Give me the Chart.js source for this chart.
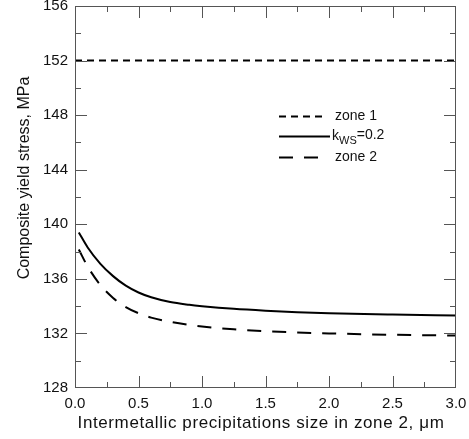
<!DOCTYPE html>
<html>
<head>
<meta charset="utf-8">
<script src="https://cdn.jsdelivr.net/npm/chart.js@4.4.0/dist/chart.umd.min.js"></script>
<style>
  html, body { margin: 0; padding: 0; background: #fff; }
</style>
</head>
<body>
<canvas id="myChart" width="469" height="439"></canvas>
<script>
// values
const sizeUm = [0.03, 0.1, 0.2, 0.3, 0.4, 0.5, 0.6, 0.75, 0.9, 1.0, 1.25, 1.5, 1.75, 2.0, 2.5, 3.0];
const kws02 = [139.4, 138.3, 137.1, 136.2, 135.5, 135.0, 134.65, 134.3, 134.1, 134.0, 133.8, 133.66, 133.55, 133.47, 133.38, 133.32];
const zone2 = [138.15, 136.9, 135.55, 134.6, 133.93, 133.48, 133.16, 132.85, 132.62, 132.5, 132.3, 132.16, 132.07, 132.0, 131.9, 131.84];
const zone1X = [0, 3];
const zone1 = [152, 152];

const seriesNames = ['zone 1', 'k_WS=0.2', 'zone 2'];
const xTickValues = [0, 0.5, 1.0, 1.5, 2.0, 2.5, 3.0];
const xMinorValues = [0.25, 0.75, 1.25, 1.75, 2.25, 2.75];
const yTickValues = [128, 132, 136, 140, 144, 148, 152, 156];
const yMinorValues = [130, 134, 138, 142, 146, 150, 154];
const xTitle = 'Intermetallic precipitations size in zone 2, \u03bcm';
const yTitle = 'Composite yield stress, MPa';

const FONT = '"Liberation Sans", Arial, sans-serif';
const toPoints = (xs, ys) => xs.map((x, i) => ({ x: x, y: ys[i] }));

// frame, inward ticks, axis titles and the legend
const decorations = {
    id: 'decorations',
    afterDatasetsDraw(chart) {
        const ctx = chart.ctx;
        const a = chart.chartArea;
        const x = chart.scales.x;
        const y = chart.scales.y;
        ctx.save();
        ctx.strokeStyle = '#555';
        ctx.lineWidth = 1;
        ctx.strokeRect(a.left + 0.5, a.top + 0.5, a.right - a.left - 1, a.bottom - a.top - 1);

        ctx.beginPath();
        const yTick = (v, len) => {
            const py = Math.round(y.getPixelForValue(v)) + 0.5;
            ctx.moveTo(a.left, py); ctx.lineTo(a.left + len, py);
            ctx.moveTo(a.right, py); ctx.lineTo(a.right - len, py);
        };
        const xTick = (v, len) => {
            const px = Math.round(x.getPixelForValue(v)) + 0.5;
            ctx.moveTo(px, a.bottom); ctx.lineTo(px, a.bottom - len);
            ctx.moveTo(px, a.top); ctx.lineTo(px, a.top + len);
        };
        yTickValues.slice(1, -1).forEach(v => yTick(v, 12));
        yMinorValues.forEach(v => yTick(v, 6));
        xTickValues.slice(1, -1).forEach(v => xTick(v, 12));
        xMinorValues.forEach(v => xTick(v, 6));
        ctx.stroke();

        // axis titles
        ctx.fillStyle = '#111';
        ctx.font = '17px ' + FONT;
        ctx.textAlign = 'center';
        ctx.textBaseline = 'alphabetic';
        ctx.letterSpacing = '0.6px';
        ctx.fillText(xTitle, 261, 428);
        ctx.letterSpacing = '0px';

        ctx.save();
        ctx.font = '16px ' + FONT;
        ctx.translate(28.5, 178);
        ctx.rotate(-Math.PI / 2);
        ctx.fillText(yTitle, 0, 0);
        ctx.restore();

        // legend
        const rows = [116, 136, 157];
        chart.data.datasets.forEach((ds, i) => {
            const ly = rows[i] + 0.5;
            ctx.save();
            ctx.strokeStyle = ds.borderColor;
            ctx.lineWidth = ds.borderWidth;
            ctx.setLineDash(ds.borderDash || []);
            ctx.beginPath();
            ctx.moveTo(279, ly);
            ctx.lineTo(i === 1 ? 330 : 326, ly);
            ctx.stroke();
            ctx.restore();

            ctx.textAlign = 'left';
            ctx.textBaseline = 'middle';
            ctx.font = '14px ' + FONT;
            const parts = ds.label.split('_');
            let tx = i === 1 ? 332 : 335;
            if (parts.length === 1) {
                ctx.fillText(ds.label, tx, ly);
            } else {
                const sub = parts[1].match(/^[A-Za-z]+/)[0];
                const rest = parts[1].slice(sub.length);
                ctx.fillText(parts[0], tx, ly);
                tx += ctx.measureText(parts[0]).width;
                ctx.font = '11px ' + FONT;
                ctx.fillText(sub, tx, ly + 4);
                tx += ctx.measureText(sub).width;
                ctx.font = '14px ' + FONT;
                ctx.fillText(rest, tx, ly - 1);
            }
        });
        ctx.restore();
    }
};

const canvasContext = document.getElementById('myChart').getContext('2d');

new Chart(canvasContext, {
    type: 'line',
    data: {
        datasets: [
            {
                label: seriesNames[0],
                data: toPoints(zone1X, zone1),
                borderColor: '#000',
                borderWidth: 2,
                borderDash: [7, 5],
                pointRadius: 0,
            },
            {
                label: seriesNames[1],
                data: toPoints(sizeUm, kws02),
                borderColor: '#000',
                borderWidth: 2,
                pointRadius: 0,
                cubicInterpolationMode: 'monotone',
            },
            {
                label: seriesNames[2],
                data: toPoints(sizeUm, zone2),
                borderColor: '#000',
                borderWidth: 2,
                borderDash: [14, 11],
                pointRadius: 0,
                cubicInterpolationMode: 'monotone',
            }
        ]
    },
    options: {
        responsive: false,
        animation: false,
        layout: {
            padding: { top: 6, right: 13, left: 0, bottom: 0 }
        },
        plugins: {
            legend: { display: false },
            tooltip: { enabled: false }
        },
        scales: {
            x: {
                type: 'linear',
                min: 0,
                max: 3,
                afterBuildTicks: (scale) => {
                    scale.ticks = xTickValues.map(v => ({ value: v }));
                },
                afterFit: (scale) => {
                    scale.height = 51;
                    scale.paddingLeft = 0;
                    scale.paddingRight = 0;
                },
                grid: { display: false, drawTicks: false },
                border: { display: false },
                ticks: {
                    padding: 7,
                    maxRotation: 0,
                    color: '#111',
                    font: { family: FONT, size: 15 },
                    callback: (v) => Number(v).toFixed(1)
                }
            },
            y: {
                type: 'linear',
                min: 128,
                max: 156,
                afterBuildTicks: (scale) => {
                    scale.ticks = yTickValues.map(v => ({ value: v }));
                },
                afterFit: (scale) => {
                    scale.width = 75;
                    scale.paddingTop = 0;
                    scale.paddingBottom = 0;
                },
                grid: { display: false, drawTicks: false },
                border: { display: false },
                ticks: {
                    padding: 7,
                    color: '#111',
                    font: { family: FONT, size: 15 },
                    callback: (v) => String(v)
                }
            }
        }
    },
    plugins: [decorations]
});
</script>
</body>
</html>
